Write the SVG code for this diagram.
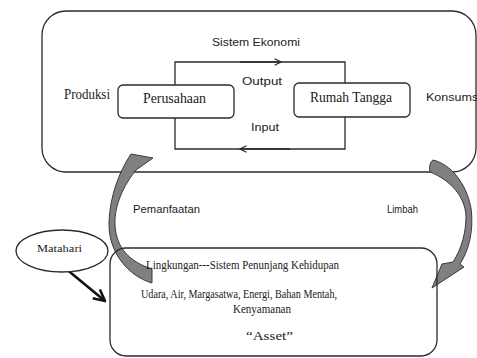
<svg xmlns="http://www.w3.org/2000/svg" width="477" height="358" viewBox="0 0 477 358">
<defs>
<style>
.box{fill:none;stroke:#2b2b2b;stroke-width:1.3}
.node{fill:#fff;stroke:#2b2b2b;stroke-width:1.3}
.serif{font-family:"Liberation Serif","Times New Roman",serif;fill:#1a1a1a}
.sans{font-family:"Liberation Sans",Arial,sans-serif;fill:#222;font-size:10px}
.line{fill:none;stroke:#2b2b2b;stroke-width:1.3}
.big{fill:#808080;stroke:#3a3a3a;stroke-width:1}
</style>
<marker id="chev" viewBox="0 0 10 10" refX="9" refY="5" markerWidth="8" markerHeight="8" markerUnits="userSpaceOnUse" orient="auto">
<path d="M1 1 L9 5 L1 9" fill="none" stroke="#2b2b2b" stroke-width="1.5"/>
</marker>
<marker id="vhead" viewBox="0 0 10 10" refX="9" refY="5" markerWidth="14" markerHeight="14" markerUnits="userSpaceOnUse" orient="auto">
<path d="M1 1 L9 5 L1 9" fill="none" stroke="#111" stroke-width="1.8"/>
</marker>
</defs>
<rect width="477" height="358" fill="#fff"/>

<g id="sistem-ekonomi">
<rect class="box" x="42" y="11" width="434" height="161" rx="24"/>
<text class="sans" x="212" y="46" textLength="88" lengthAdjust="spacingAndGlyphs">Sistem Ekonomi</text>
<text class="serif" x="64" y="99" font-size="14" textLength="46" lengthAdjust="spacingAndGlyphs">Produksi</text>
<text class="sans" x="426" y="101" font-size="10.5" textLength="55" lengthAdjust="spacingAndGlyphs">Konsumsi</text>
</g>

<g id="connectors">
<path class="line" d="M175 62 H345 V149 H175 Z"/>
<path class="line" d="M240 62 H281" marker-end="url(#chev)"/>
<path class="line" d="M290 149 H240" marker-end="url(#chev)"/>
<text class="sans" x="242" y="85" textLength="40" lengthAdjust="spacingAndGlyphs">Output</text>
<text class="sans" x="251" y="131" textLength="28" lengthAdjust="spacingAndGlyphs">Input</text>
<path class="big" d="M152 283 C128 276 108 252 109 222 C110 196 119 172 131 154 L153 158 L136 170 C124 185 114 205 115 225 C116 248 130 262 152 269 Z"/>
<path class="big" d="M430 172 C429 166 430 162 433 160 C450 164 466 182 471 208 C474 230 469 250 460 264 L464 267 L432 288 L442 264 L453 262 C462 248 466 232 466 216 C465 196 450 180 430 172 Z"/>
<text class="sans" x="133" y="213" textLength="67" lengthAdjust="spacingAndGlyphs">Pemanfaatan</text>
<text class="sans" x="387" y="213" textLength="31" lengthAdjust="spacingAndGlyphs">Limbah</text>
<path d="M65 268 L105 301" fill="none" stroke="#111" stroke-width="2.6" marker-end="url(#vhead)"/>
</g>

<g id="perusahaan">
<rect class="node" x="118" y="85" width="116" height="33" rx="5"/>
<text class="serif" x="143" y="103" font-size="14" textLength="63" lengthAdjust="spacingAndGlyphs">Perusahaan</text>
</g>

<g id="rumah-tangga">
<rect class="node" x="294" y="83" width="116" height="34" rx="5"/>
<text class="serif" x="310" y="102" font-size="14" textLength="82" lengthAdjust="spacingAndGlyphs">Rumah Tangga</text>
</g>

<g id="matahari">
<ellipse cx="62" cy="251" rx="46" ry="21" fill="#fff" stroke="#2b2b2b" stroke-width="1.3"/>
<text class="serif" x="37" y="252" font-size="11" textLength="45" lengthAdjust="spacingAndGlyphs">Matahari</text>
</g>

<g id="lingkungan">
<rect class="box" x="110" y="248" width="327" height="108" rx="16"/>
<text class="serif" x="146" y="269" font-size="13.5" textLength="193" lengthAdjust="spacingAndGlyphs">Lingkungan---Sistem Penunjang Kehidupan</text>
<text class="serif" x="141" y="298" font-size="13.5" textLength="196" lengthAdjust="spacingAndGlyphs">Udara, Air, Margasatwa, Energi, Bahan Mentah,</text>
<text class="serif" x="233" y="313" font-size="13.5" textLength="58" lengthAdjust="spacingAndGlyphs">Kenyamanan</text>
<text class="serif" x="246" y="340" font-size="12.5" textLength="47" lengthAdjust="spacingAndGlyphs">“Asset”</text>
</g>
</svg>
